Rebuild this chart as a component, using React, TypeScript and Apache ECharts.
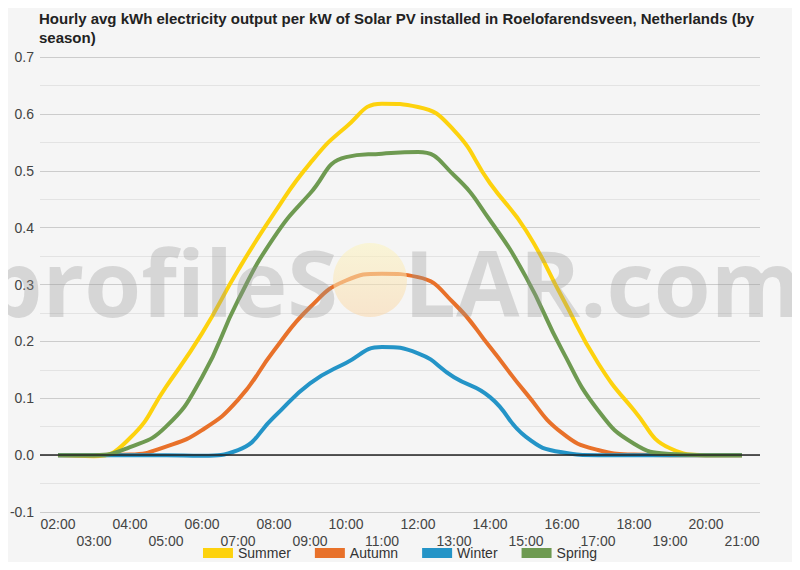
import React, { useEffect, useRef } from 'react';
import * as echarts from 'echarts';

const hours = [
  '02:00', '03:00', '04:00', '05:00', '06:00', '07:00', '08:00', '09:00', '10:00', '11:00',
  '12:00', '13:00', '14:00', '15:00', '16:00', '17:00', '18:00', '19:00', '20:00', '21:00',
];

const summer = [0, -0.002, 0.03, 0.12, 0.214, 0.325, 0.425, 0.513, 0.577, 0.618, 0.612, 0.571, 0.478, 0.395, 0.278, 0.162, 0.079, 0.012, 0, 0];
const autumn = [0, 0, 0.001, 0.015, 0.044, 0.097, 0.184, 0.26, 0.307, 0.319, 0.313, 0.267, 0.19, 0.109, 0.039, 0.009, 0.001, 0, 0, 0];
const winter = [0, 0, 0, 0, -0.001, 0.009, 0.067, 0.126, 0.162, 0.19, 0.179, 0.137, 0.102, 0.032, 0.005, 0, 0, 0, 0, 0];
const spring = [0, 0, 0.014, 0.05, 0.137, 0.272, 0.383, 0.46, 0.524, 0.53, 0.533, 0.492, 0.413, 0.313, 0.185, 0.079, 0.02, 0.002, 0, 0];

const narrow = '"Liberation Sans Narrow", "Arial Narrow", "Liberation Sans", Arial, sans-serif';

const App: React.FC = () => {
  const chartRef = useRef<HTMLDivElement>(null);

  useEffect(() => {
    if (!chartRef.current) return;
    const chart = echarts.init(chartRef.current, undefined, { renderer: 'svg' });

    const line = (name: string, data: number[], color: string) => ({
      name,
      type: 'line',
      data,
      smooth: 0.5,
      symbol: 'none',
      lineStyle: { width: 4, color },
      itemStyle: { color },
      z: 3,
    });

    chart.setOption({
      animation: false,
      backgroundColor: '#f5f5f5',
      title: {
        text: 'Hourly avg kWh electricity output per kW of Solar PV installed in Roelofarendsveen, Netherlands (by season)',
        left: 34,
        top: 4,
        textStyle: {
          fontFamily: '"Liberation Sans", Arial, sans-serif',
          fontSize: 15,
          fontWeight: 'bold',
          color: '#222',
          width: 720,
          overflow: 'break',
          lineHeight: 19,
        },
      },
      legend: {
        bottom: 5,
        left: 'center',
        itemWidth: 30,
        itemHeight: 10,
        itemGap: 24,
        icon: 'rect',
        textStyle: { fontFamily: narrow, fontSize: 14, color: '#333' },
        data: ['Summer', 'Autumn', 'Winter', 'Spring'],
      },
      grid: { left: 40, right: 40, top: 57, bottom: 58, containLabel: false },
      xAxis: {
        type: 'category',
        data: hours,
        boundaryGap: true,
        axisLine: { show: false },
        axisTick: { show: false },
        axisLabel: {
          interval: 0,
          fontFamily: narrow,
          fontSize: 14,
          color: '#444',
          lineHeight: 17,
          margin: 3,
          formatter: (v: string, i: number) => (i % 2 === 1 ? '\n' + v : v),
        },
      },
      yAxis: {
        type: 'value',
        min: -0.1,
        max: 0.7,
        interval: 0.1,
        axisLine: { show: false },
        axisTick: { show: false },
        axisLabel: {
          fontFamily: narrow,
          fontSize: 14,
          color: '#444',
          margin: 6,
          formatter: (v: number) => v.toFixed(1),
        },
        splitLine: { lineStyle: { color: '#cccccc', width: 1 } },
        minorTick: { show: false, splitNumber: 2 },
        minorSplitLine: { show: true, lineStyle: { color: '#e3e3e3', width: 1 } },
      },
      series: [
        line('Summer', summer, '#fdd20d'),
        line('Autumn', autumn, '#e8712a'),
        line('Winter', winter, '#2494c7'),
        {
          ...line('Spring', spring, '#6e9a51'),
          markLine: {
            silent: true,
            symbol: 'none',
            label: { show: false },
            lineStyle: { color: '#222', width: 1.5, type: 'solid' },
            data: [{ yAxis: 0 }],
          },
        },
      ],
      graphic: [
        {
          type: 'circle',
          shape: { cx: 370, cy: 280, r: 37 },
          z: 100,
          silent: true,
          style: {
            fill: new echarts.graphic.LinearGradient(0, 0, 0, 1, [
              { offset: 0, color: 'rgba(252, 244, 190, 0.55)' },
              { offset: 1, color: 'rgba(250, 215, 170, 0.55)' },
            ]),
          },
        },
        {
          type: 'text',
          x: 338,
          y: 281,
          z: 100,
          silent: true,
          style: {
            text: 'profileS',
            align: 'right',
            verticalAlign: 'middle',
            fontFamily: '"Open Sans", "Noto Sans", sans-serif',
            fontWeight: 'bold',
            fontSize: 92,
            fill: 'rgba(150, 150, 150, 0.32)',
          },
        },
        {
          type: 'text',
          x: 404,
          y: 281,
          z: 100,
          silent: true,
          style: {
            text: 'LAR.com',
            align: 'left',
            verticalAlign: 'middle',
            fontFamily: '"Open Sans", "Noto Sans", sans-serif',
            fontWeight: 'bold',
            fontSize: 92,
            fill: 'rgba(150, 150, 150, 0.32)',
          },
        },
      ],
    } as any);

    return () => {
      chart.dispose();
    };
  }, []);

  return <div ref={chartRef} style={{ width: 800, height: 570, margin: -8 }} />;
};

export default App;
